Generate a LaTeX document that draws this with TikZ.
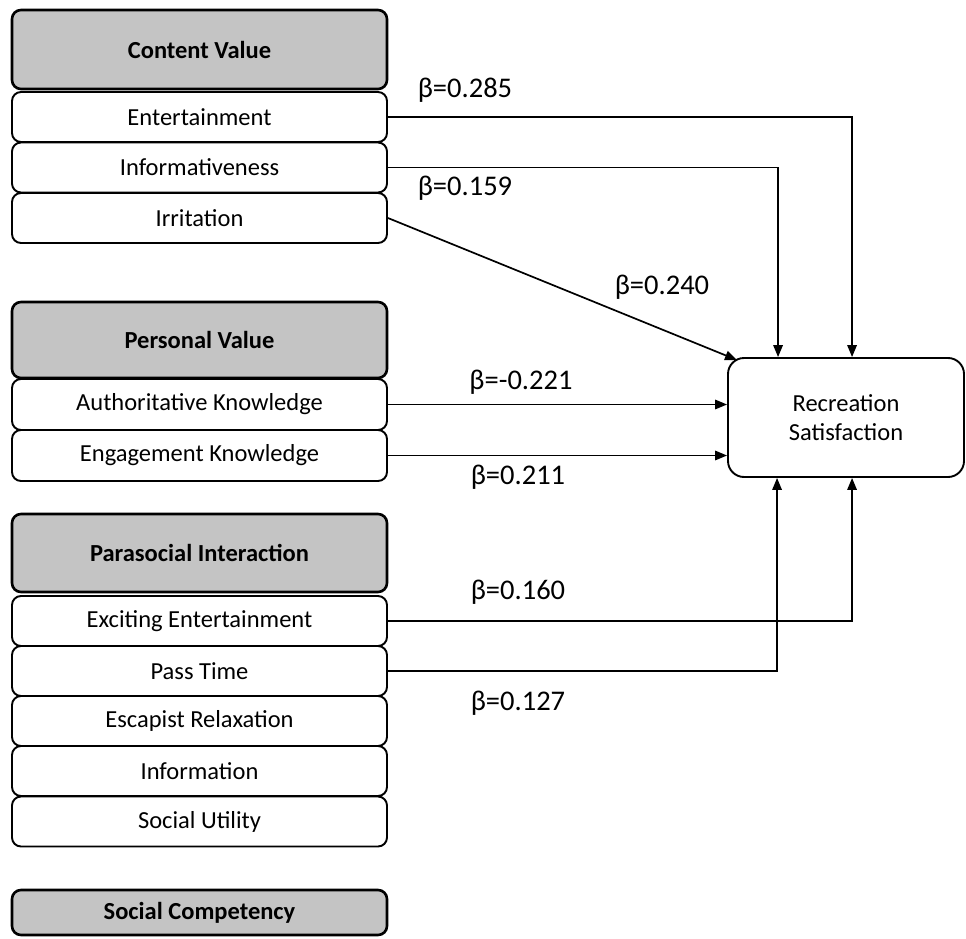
\documentclass[tikz,border=0pt]{standalone}
\usepackage{fontspec}
\setmainfont{Carlito}
\usetikzlibrary{arrows.meta,calc}
\newcommand{\itemfont}{\fontsize{24.5}{29}\selectfont}
\newcommand{\betafont}{\fontsize{28.5}{33}\selectfont}
\definecolor{headgray}{gray}{0.77}
\begin{document}
\begin{tikzpicture}[x=1pt,y=-1pt,
  itembox/.style={draw, line width=1.9pt, rounded corners=9pt, fill=white,
    minimum width=375pt, minimum height=50pt, inner sep=0pt, font=\itemfont},
  headbox/.style={itembox, line width=2.6pt, fill=headgray, font=\itemfont\bfseries},
  outbox/.style={draw, line width=1.9pt, rounded corners=16pt, fill=white,
    minimum width=236pt, minimum height=119pt, align=center, font=\itemfont},
  coef/.style={font=\betafont, inner sep=0pt},
  path/.style={line width=1.7pt, -{Triangle[length=12pt,width=9.5pt]}}]
\useasboundingbox (0,0) rectangle (966,939);

% Content value block
\node[headbox, minimum height=79pt] (cv) at (199.5,49.5) {Content Value};
\node[itembox] (ent) at (199.5,117) {Entertainment};
\node[itembox] (inf) at (199.5,167.5) {Informativeness};
\node[itembox] (irr) at (199.5,218) {Irritation};

% Personal value block
\node[headbox, minimum height=76pt] (pv) at (199.5,340) {Personal Value};
\node[itembox, minimum height=51pt] (ak) at (199.5,404.5) {Authoritative Knowledge};
\node[itembox, minimum height=51pt] (ek) at (199.5,455.5) {Engagement Knowledge};

% Parasocial interaction block
\node[headbox, minimum height=78pt] (pi) at (199.5,553) {Parasocial Interaction};
\node[itembox] (ee) at (199.5,621) {Exciting Entertainment};
\node[itembox] (pt) at (199.5,671) {Pass Time};
\node[itembox] (er) at (199.5,721) {Escapist Relaxation};
\node[itembox] (info) at (199.5,771) {Information};
\node[itembox] (su) at (199.5,821.5) {Social Utility};

% Social competency
\node[headbox, minimum height=45pt] (sc) at (199.5,912.5) {Social Competency};

% Outcome
\node[outbox] (rs) at (846,417.5) {Recreation\\Satisfaction};

% Paths
\coordinate (irrtip) at (737,360);
\draw[path] (ent.east) -| ($(rs.north west)+(125,0)$);
\draw[path] (inf.east) -| ($(rs.north west)+(51,0)$);
\draw[path] (irr.east) -- (irrtip);
\draw[path] (ak.east) -- (ak.east -| rs.west);
\draw[path] (ek.east) -- (ek.east -| rs.west);
\draw[path] (ee.east) -| ($(rs.south west)+(125,0)$);
\draw[path] (pt.east) -| ($(rs.south west)+(50,0)$);

% Coefficients
\node[coef] (b1) at (465,90) {β=0.285};
\node[coef] (b2) at (465,188) {β=0.159};
\node[coef] (b3) at (662,287) {β=0.240};
\node[coef] (b4) at (521,382) {β=-0.221};
\node[coef] (b5) at (518,477) {β=0.211};
\node[coef] (b6) at (518,592) {β=0.160};
\node[coef] (b7) at (518,703) {β=0.127};
\end{tikzpicture}
\end{document}
